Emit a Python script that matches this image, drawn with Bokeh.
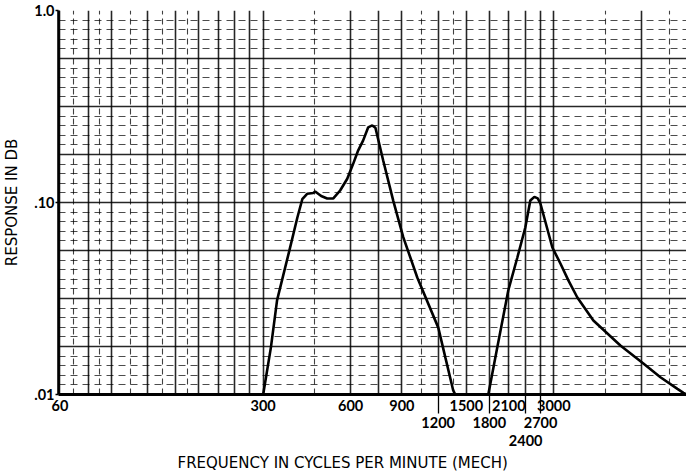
from bokeh.plotting import figure
from bokeh.models import FixedTicker, Range1d, Title
from bokeh.embed import file_html
from bokeh.resources import INLINE

# ---- data ----
peak1_freq = [300, 319, 335, 369, 393, 409, 425, 446, 453, 475, 498, 523, 552, 584,
              612, 637, 662, 689, 712, 730, 776, 841, 910, 1017, 1201, 1270, 1352, 1374]
peak1_resp = [0.010, 0.0176, 0.031, 0.056, 0.083, 0.104, 0.111, 0.112, 0.114, 0.108,
              0.105, 0.105, 0.1155, 0.133, 0.159, 0.187, 0.21, 0.246, 0.252, 0.245,
              0.166, 0.102, 0.066, 0.0407, 0.0223, 0.0156, 0.0105, 0.010]

peak2_freq = [1785, 1917, 2091, 2247, 2393, 2490, 2571, 2640, 2697, 2965, 3160, 3366,
              3614, 4103, 5082, 6097, 6979, 7984, 8375, 8580]
peak2_resp = [0.010, 0.0176, 0.0348, 0.0517, 0.0741, 0.1024, 0.107, 0.105, 0.0988,
              0.0583, 0.0481, 0.0393, 0.032, 0.0243, 0.018, 0.0145, 0.0123, 0.0107,
              0.0102, 0.0100]

x_tick_values = [60, 300, 600, 900, 1200, 1500, 1800, 2100, 2400, 2700, 3000]
x_tick_labels = ["60", "300", "600", "900", "\n1200", "1500", "\n1800", "2100",
                 "\n\n2400", "\n2700", "3000"]
x_leader_ticks = [1200, 1800, 2400, 2700]

y_tick_values = [0.01, 0.1, 1.0]
y_tick_labels = [".01", ".10", "1.0"]

x_title = "FREQUENCY IN CYCLES PER MINUTE (MECH)"
y_title = "RESPONSE IN DB"

# graph-paper rulings
grid_v_major = [60, 75, 90, 120, 150, 180, 210, 240, 270, 300, 600, 750, 900, 1200,
                1500, 1800, 2100, 2400, 2700, 3000, 6000]
grid_v_minor = [67, 82, 105, 135, 165, 450, 1050, 1350, 4500, 7500]
grid_h_major = [10 ** (-k / 4) for k in range(9)]
grid_h_minor = [10 ** (-(k + j / 5) / 4) for k in range(8) for j in range(1, 5)]

NUM_FONT = "Lato"
TITLE_FONT = "DejaVu Sans"
LEADER = 19

p = figure(width=686, height=474, x_axis_type="log", y_axis_type="log",
           x_range=Range1d(59.3, 8580), y_range=Range1d(0.01, 1.0),
           output_backend="svg", toolbar_location=None,
           min_border_left=58, min_border_right=0, min_border_top=10,
           min_border_bottom=80)
p.background_fill_color = "white"
p.border_fill_color = "white"
p.outline_line_color = None

# grids
p.xgrid.ticker = FixedTicker(ticks=grid_v_major, minor_ticks=grid_v_minor)
p.xgrid.grid_line_color = "black"
p.xgrid.grid_line_width = 1.6
p.xgrid.grid_line_alpha = 0.85
p.xgrid.minor_grid_line_color = "black"
p.xgrid.minor_grid_line_width = 1.1
p.xgrid.minor_grid_line_alpha = 0.75
p.xgrid.minor_grid_line_dash = "6 4"

p.ygrid.ticker = FixedTicker(ticks=grid_h_major, minor_ticks=grid_h_minor)
p.ygrid.grid_line_color = "black"
p.ygrid.grid_line_width = 1.6
p.ygrid.grid_line_alpha = 0.85
p.ygrid.minor_grid_line_color = "black"
p.ygrid.minor_grid_line_width = 1.0
p.ygrid.minor_grid_line_alpha = 0.7
p.ygrid.minor_grid_line_dash = "7 5"

# curves
p.line(peak1_freq, peak1_resp, line_color="black", line_width=2.6)
p.line(peak2_freq, peak2_resp, line_color="black", line_width=2.6)

# x axis
xa = p.xaxis[0]
xa.ticker = FixedTicker(ticks=x_tick_values, minor_ticks=x_leader_ticks)
xa.major_label_overrides = dict(zip(x_tick_values, x_tick_labels))
xa.axis_line_width = 3.2
xa.axis_line_color = "black"
xa.major_tick_out = 0
xa.major_tick_in = 0
xa.minor_tick_in = 0
xa.minor_tick_out = LEADER
xa.minor_tick_line_width = 1.3
xa.major_label_standoff = 2 - LEADER
xa.major_label_text_font = NUM_FONT
xa.major_label_text_font_style = "bold"
xa.major_label_text_font_size = "14.5px"
xa.major_label_text_line_height = 1.04
xa.major_label_text_color = "black"

# x-axis title, set left of centre as in the original
p.add_layout(Title(text=x_title, align="left", offset=119, standoff=0,
                   text_font=TITLE_FONT, text_font_style="normal",
                   text_font_size="15px", text_color="black"), "below")

# y axis
ya = p.yaxis[0]
ya.ticker = FixedTicker(ticks=y_tick_values, minor_ticks=[])
ya.major_label_overrides = dict(zip(y_tick_values, y_tick_labels))
ya.axis_line_width = 2.6
ya.axis_line_color = "black"
ya.major_tick_out = 3
ya.major_tick_in = 0
ya.major_tick_line_width = 1.5
ya.major_label_standoff = 1
ya.major_label_text_font = NUM_FONT
ya.major_label_text_font_style = "bold"
ya.major_label_text_font_size = "14.5px"
ya.major_label_text_color = "black"
ya.axis_label = y_title
ya.axis_label_text_font = TITLE_FONT
ya.axis_label_text_font_style = "normal"
ya.axis_label_text_font_size = "15px"
ya.axis_label_standoff = 10
ya.axis_label_text_color = "black"

open("out.html", "w").write(file_html(p, INLINE))
